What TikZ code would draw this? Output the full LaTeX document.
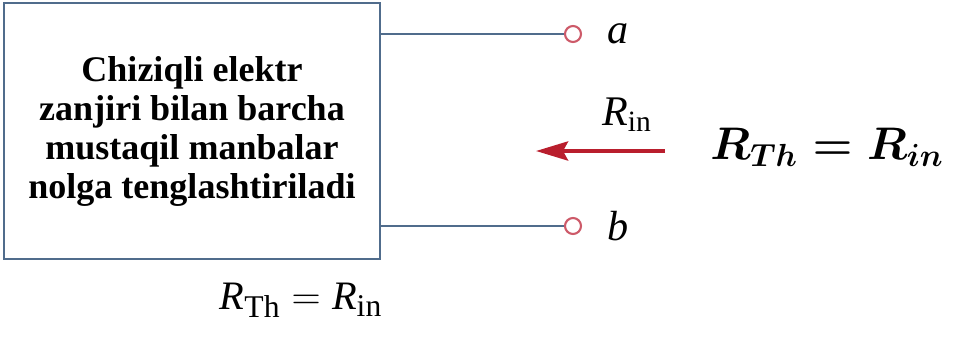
\documentclass[tikz,border=0pt]{standalone}
\usepackage{fix-cm}
\usepackage{fontspec}
\setmainfont{Liberation Serif}
\usetikzlibrary{math}
\usetikzlibrary{arrows.meta}

\definecolor{wirecol}{RGB}{80,108,140}
\definecolor{termcol}{RGB}{205,90,105}
\definecolor{arrowcol}{RGB}{185,30,45}

\begin{document}
\begin{tikzpicture}[x=0.02cm, y=-0.02cm,
	wire/.style={draw=wirecol, line width=0.9pt},
	terminal/.style={circle, draw=termcol, line width=1.2pt, fill=white, inner sep=0pt, minimum size=0.32cm},
	termlabel/.style={anchor=west, font=\fontsize{24}{28}\selectfont\itshape}]
	% Constants
	\tikzmath{
		\boxleft = 4; \boxright = 380; \boxtop = 3; \boxbottom = 259;
		\termx = 573; \termya = 34; \termyb = 226;
		\arrowy = 151;
	}
	\useasboundingbox (0, 0) rectangle (961, 342);

	% Network with sources set to zero
	\node[draw=wirecol, line width=1.1pt, minimum width=7.52cm, minimum height=5.12cm, align=center,
		font=\bfseries\fontsize{20.5}{22.2}\selectfont] (net) at ({(\boxleft + \boxright)/2}, {(\boxtop + \boxbottom)/2})
		{Chiziqli elektr\\zanjiri bilan barcha\\mustaqil manbalar\\nolga tenglashtiriladi};

	% Terminals
	\node[terminal] (ta) at (\termx, \termya) {};
	\node[terminal] (tb) at (\termx, \termyb) {};
	\draw[wire] (ta -| net.east) -- (ta);
	\draw[wire] (tb -| net.east) -- (tb);
	\node[termlabel] (la) at ([xshift=0.38cm]ta.east) {a};
	\node[termlabel] (lb) at ([xshift=0.38cm]tb.east) {b};

	% Input resistance
	\node[font=\fontsize{24}{28}\selectfont] (rin) at (627, 115) {$\mathit{R}_{\mathrm{in}}$};
	\coordinate (arrowtail) at (665, \arrowy);
	\coordinate (arrowtip) at (536, \arrowy);
	\draw[arrowcol, line width=2.4pt, -{Stealth[length=0.64cm, width=0.38cm, inset=0.1cm]}] (arrowtail) -- (arrowtip);

	% Equivalent resistance
	\node[font={\fontsize{26}{30}\selectfont\boldmath}] (rthbig) at (827, 147) {$R_{Th} = R_{in}$};
	\node[font=\fontsize{23}{26}\selectfont] (rth) at (301, 300)
		{$\mathit{R}_{\hbox{\fontsize{18}{18}\selectfont Th}} = \mathit{R}_{\hbox{\fontsize{18}{18}\selectfont in}}$};
\end{tikzpicture}
\end{document}
